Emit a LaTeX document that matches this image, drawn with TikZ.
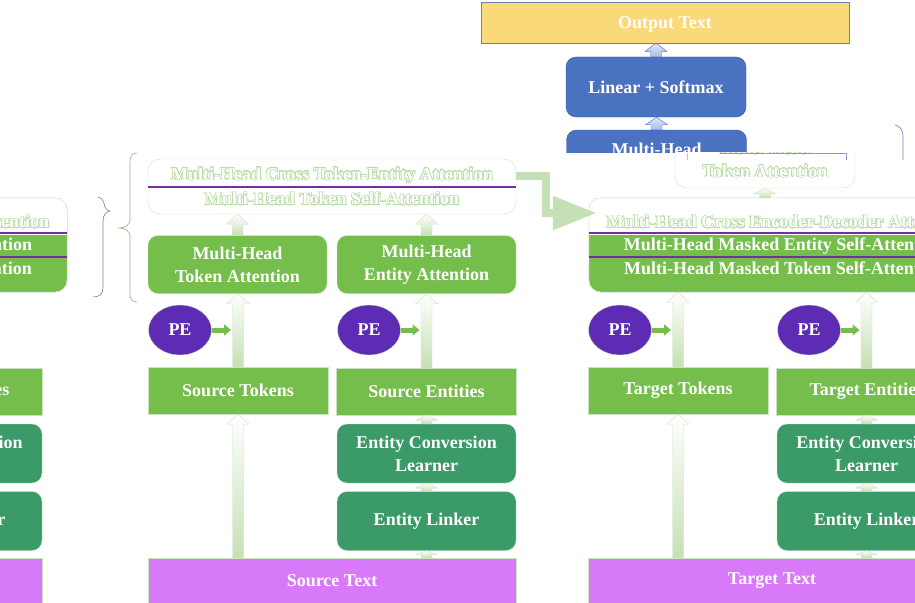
\documentclass[tikz,border=0pt]{standalone}
\usepackage{fontspec}
\setmainfont{Liberation Serif}
\usepackage{contour}
\contourlength{0.6pt}
\usetikzlibrary{positioning,calc,arrows.meta,shapes.geometric}
\definecolor{lgreen}{RGB}{117,190,75}
\definecolor{dgreen}{RGB}{58,154,104}
\definecolor{srcpink}{RGB}{215,121,248}
\definecolor{pepurple}{RGB}{94,43,180}
\definecolor{blbox}{RGB}{74,114,192}
\definecolor{lblue}{RGB}{170,192,230}
\definecolor{yel}{RGB}{249,217,122}
\definecolor{paleg}{RGB}{197,224,180}
\definecolor{olgreen}{RGB}{185,220,165}
\definecolor{edgeg}{RGB}{205,225,195}
\definecolor{divpurple}{RGB}{112,48,160}
\definecolor{bracecol}{RGB}{110,130,175}
\definecolor{bracegr}{RGB}{150,175,130}
\newcommand{\olt}[1]{\contour{olgreen}{#1}}
% up block arrow from #2 (foot) to #3 (tip)
\newcommand{\blkup}[3][gup]{%
  \path[#1] let \p1=(#2), \p2=(#3), \n1={min(10pt,0.6*(\y2-\y1))} in
    (\x1-5.5pt,\y1) -- (\x1-5.5pt,\y2-\n1) -- (\x1-11pt,\y2-\n1) -- (\x1,\y2)
    -- (\x1+11pt,\y2-\n1) -- (\x1+5.5pt,\y2-\n1) -- (\x1+5.5pt,\y1) -- cycle;}
\tikzset{%
  base/.style = {inner sep=0pt, align=center, text=white,
        font=\fontsize{18}{23}\selectfont\bfseries},
  tok/.style = {base, rectangle, fill=lgreen, draw=edgeg,
        minimum width=180pt, minimum height=47pt},
  lrn/.style = {base, rectangle, rounded corners=10pt, fill=dgreen, draw=edgeg,
        minimum width=179pt, minimum height=59pt},
  att/.style = {base, rectangle, rounded corners=10pt, fill=lgreen, draw=edgeg,
        minimum width=179pt, minimum height=58pt},
  txt/.style = {base, rectangle, fill=srcpink, draw=edgeg,
        minimum width=368pt, minimum height=46pt},
  pe/.style = {base, ellipse, fill=pepurple, draw=edgeg,
        minimum width=63pt, minimum height=50pt},
  blubox/.style = {base, rectangle, rounded corners=10pt, fill=blbox, draw=blbox!80!black,
        minimum width=180pt, minimum height=60pt},
  outbox/.style = {base, rectangle, fill=yel, draw=bracecol,
        minimum width=368pt, minimum height=41pt},
  olbox/.style = {base, rectangle, rounded corners=12pt, fill=white, draw=edgeg},
  row/.style = {base, minimum height=22pt},
  divline/.style = {draw=divpurple, line width=1.5pt},
  gup/.style = {top color=white, bottom color=paleg, draw=edgeg},
  bup/.style = {top color=lblue!40!white, bottom color=lblue, draw=blbox},
  pearr/.style = {line width=5pt, lgreen, -{Triangle[width=11pt,length=7pt]}},
  bigarr/.style = {line width=8pt, paleg, line join=miter,
        -{Triangle[width=32pt,length=44pt]}}
}
\begin{document}
\begin{tikzpicture}[x=1pt,y=-1pt]
\useasboundingbox (0,0) rectangle (915,602);
\clip (0,0) rectangle (915,602);

% output side
\node[outbox] (out) at (665,22.5) {};
\node[base] (outl) at (665,24.5) {Output Text};
\node[blubox] (lin) at (656,87) {Linear + Softmax};
\begin{scope}
  \clip (500,120) rectangle (800,152.5);
  \node[blubox] (mh) at (656.5,160) {};
  \node[base] (mhl) at (656.5,149) {Multi-Head};
\end{scope}
\blkup[bup]{mh.north}{lin.south};
\blkup[bup]{lin.north}{out.south};

\begin{scope}
  \clip (600,152.5) rectangle (915,200);
  \node[olbox, minimum width=180pt, minimum height=56pt] (tatt) at (765,160)
    {\olt{Multi-Head}\\\olt{Token Attention}};
\end{scope}
\draw[blbox!70, line width=0.6pt] (720,153.5) -- (846,153.5) -- (846,160);
\draw[srcpink!60, line width=0.6pt] (687,153) -- (687,160);
\draw[bracecol, line width=0.6pt] (895,125) .. controls (900,126) and (903,130) .. (903,136) -- (903,160);

% lower columns (source, target, copy on the left)
\foreach \sx/\pre/\lbl in {0/s/Source,440/t/Target,-474/l/Target}{
\begin{scope}[xshift=\sx]
  \node[tok] (\pre tok) at (238,390.5) {\lbl{} Tokens};
  \node[tok] (\pre ent) at (426.5,391.5) {\lbl{} Entities};
  \node[lrn] (\pre con) at (426.5,453.5) {Entity Conversion\\Learner};
  \node[lrn] (\pre lnk) at (426.5,521) {Entity Linker};
  \node[txt] (\pre txt) at (332,581) {\lbl{} Text};
  \node[pe] (\pre pea) at (180,330) {PE};
  \node[pe] (\pre peb) at (369,330) {PE};
  \blkup{\pre txt.north -| \pre tok.south}{\pre tok.south};
  \blkup{\pre txt.north -| \pre lnk.south}{\pre lnk.south};
  \blkup{\pre lnk.north}{\pre con.south};
  \blkup{\pre con.north}{\pre ent.south};
  \draw[pearr, shorten >=7pt] (\pre pea.east) -- (\pre pea.east -| \pre tok.north);
  \draw[pearr, shorten >=7pt] (\pre peb.east) -- (\pre peb.east -| \pre ent.north);
\end{scope}}

% encoder
\node[olbox, minimum width=368pt, minimum height=55pt] (enc) at (332,186.5) {};
\node[row, minimum width=368pt] (encA) at (332,176) {\olt{Multi-Head Cross Token-Entity Attention}};
\node[row, minimum width=368pt] (encB) at (332,199) {\olt{Multi-Head Token Self-Attention}};
\draw[divline] (enc.west |- encA.south) -- (enc.east |- encA.south);
\node[att] (stokatt) at (237.5,264.5) {Multi-Head\\Token Attention};
\node[att] (sentatt) at (426.5,264.5) {Multi-Head\\Entity Attention};
\blkup{stok.north}{stokatt.south};
\blkup{sent.north}{sentatt.south};
\blkup{stokatt.north}{stokatt.north |- enc.south};
\blkup{sentatt.north}{sentatt.north |- enc.south};

% decoder (and its copy on the left)
\foreach \sx/\pre in {0/t,-912/l}{
\begin{scope}[xshift=\sx]
  \node[rectangle, rounded corners=12pt, fill=lgreen, draw=edgeg,
        minimum width=390pt, minimum height=94pt] (\pre dec) at (784,245) {};
  \begin{scope}
    \clip[rounded corners=12pt] (\pre dec.south west) rectangle (\pre dec.north east);
    \fill[white] (\pre dec.north west) rectangle ([yshift=-37pt]\pre dec.north east);
  \end{scope}
  \draw[edgeg, rounded corners=12pt] (\pre dec.south west) rectangle (\pre dec.north east);
  \node[row, minimum width=390pt] (\pre decA) at (784,222) {\olt{Multi-Head Cross Encoder-Decoder Attention}};
  \node[row, minimum width=390pt] (\pre decB) at (784,246) {Multi-Head Masked Entity Self-Attention};
  \node[row, minimum width=390pt] (\pre decC) at (784,268) {Multi-Head Masked Token Self-Attention};
  \draw[divline] (\pre decA.south west) -- (\pre decA.south east);
  \draw[divline] (\pre decB.south west) -- (\pre decB.south east);
\end{scope}}
\blkup{ttok.north}{ttok.north |- tdec.south};
\blkup{tent.north}{tent.north |- tdec.south};
\blkup{tatt.south |- tdec.north}{tatt.south};
\draw[bigarr] (encA.east) -- ++(30,0) |- ([xshift=8pt,yshift=9pt]tdecA.west);

% braces
\draw[bracecol, line width=0.6pt] (98,197) .. controls (103,198) and (104,203) .. (105,207)
  .. controls (106,210) and (108,211) .. (110,211) .. controls (106,212) and (103,215) .. (103,221)
  -- (103,288) .. controls (103,294) and (99,297) .. (93,297);
\draw[bracegr, line width=0.6pt] (137,153) .. controls (132,153) and (130,156) .. (130,162)
  -- (130,220) .. controls (130,225) and (125,228) .. (119,228) .. controls (125,228) and (130,231) .. (130,236)
  -- (130,294) .. controls (130,299) and (132,302) .. (137,302);
\end{tikzpicture}
\end{document}
